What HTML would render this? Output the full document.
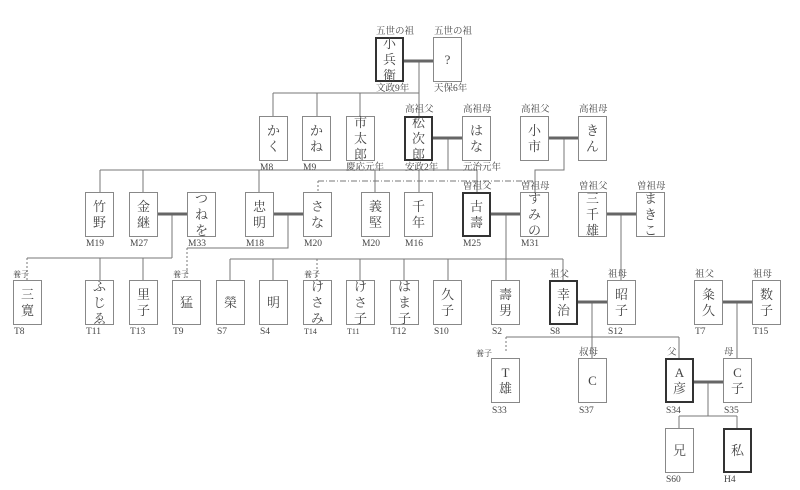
<!DOCTYPE html>
<html><head><meta charset="utf-8"><style>
body{margin:0;width:800px;height:490px;background:#fff;position:relative;overflow:hidden;font-family:"Liberation Serif","Noto Serif CJK SC","Noto Sans CJK JP",serif;color:#444}
.b{position:absolute;width:27px;height:43px;border:1px solid #888;background:#fff;display:flex;flex-direction:column;align-items:center;justify-content:center;font-size:13px;line-height:16px;text-align:center;box-sizing:content-box}
.k{border:2px solid #333;width:25px;height:41px}
.l{position:absolute;font-size:9.5px;line-height:10px;white-space:nowrap;color:#444}
svg{position:absolute;left:0;top:0}
</style></head><body>
<svg width="800" height="490">
<g stroke="#777" stroke-width="1" fill="none">
<path d="M419 61V93M273 93H419M273 93V116M317 93V116M360 93V116M419 93V116"/>
<path d="M448 138V170M100 170H477M100 170V192M143 170V192M259 170V192M375 170V192M419 170V192M477 170V192"/>
<path d="M564 138V170H535V192"/>
<path d="M172 214V258M27 258H172M100 258V280M143 258V280"/>
<path d="M288 214V248H187"/>
<path d="M230 259H563M230 259V280M273 259V280M360 259V280M404 259V280M448 259V280M563 259V280"/>
<path d="M506 214V280"/>
<path d="M621 214V280"/>
<path d="M592 302V358M506 337H679M679 337V358"/>
<path d="M737 302V358"/>
<path d="M708 382V416M679 416H737M679 416V428M737 416V428"/>
</g>
<g stroke="#777" stroke-width="1" fill="none" stroke-dasharray="2,2">
<path d="M27 258V290M187 248V290M317 259V290M506 337V352"/>
</g>
<path d="M318 181H535V170" stroke="#777" fill="none" stroke-dasharray="6,2,1,2"/>
<path d="M318 181V192" stroke="#777" fill="none" stroke-dasharray="2,2"/>
<g stroke="#666" stroke-width="3">
<path d="M404 61H433M433 138H462M549 138H578M158 214H187M274 214H303M491 214H520M607 214H636M578 302H607M723 302H752M694 382H723"/>
</g>
</svg>

<div class="l" style="left:376px;top:27px">五世の祖</div><div class="l" style="left:434px;top:27px">五世の祖</div>
<div class="b k" style="left:375px;top:37px">小<br>兵<br>衛</div>
<div class="b" style="left:433px;top:37px">?</div>
<div class="l" style="left:376px;top:84px">文政9年</div><div class="l" style="left:434px;top:84px">天保6年</div>

<div class="l" style="left:405px;top:105px">高祖父</div><div class="l" style="left:463px;top:105px">高祖母</div>
<div class="l" style="left:521px;top:105px">高祖父</div><div class="l" style="left:579px;top:105px">高祖母</div>
<div class="b" style="left:259px;top:116px">か<br>く</div>
<div class="b" style="left:302px;top:116px">か<br>ね</div>
<div class="b" style="left:346px;top:116px">市<br>太<br>郎</div>
<div class="b k" style="left:404px;top:116px">松<br>次<br>郎</div>
<div class="b" style="left:462px;top:116px">は<br>な</div>
<div class="b" style="left:520px;top:116px">小<br>市</div>
<div class="b" style="left:578px;top:116px">き<br>ん</div>
<div class="l" style="left:260px;top:163px">M8</div><div class="l" style="left:303px;top:163px">M9</div>
<div class="l" style="left:346px;top:163px">慶応元年</div><div class="l" style="left:405px;top:163px">安政2年</div><div class="l" style="left:463px;top:163px">元治元年</div>

<div class="l" style="left:463px;top:182px">曽祖父</div><div class="l" style="left:521px;top:182px">曽祖母</div>
<div class="l" style="left:579px;top:182px">曽祖父</div><div class="l" style="left:637px;top:182px">曽祖母</div>
<div class="b" style="left:85px;top:192px">竹<br>野</div>
<div class="b" style="left:129px;top:192px">金<br>継</div>
<div class="b" style="left:187px;top:192px">つ<br>ね<br>を</div>
<div class="b" style="left:245px;top:192px">忠<br>明</div>
<div class="b" style="left:303px;top:192px">さ<br>な</div>
<div class="b" style="left:361px;top:192px">義<br>堅</div>
<div class="b" style="left:404px;top:192px">千<br>年</div>
<div class="b k" style="left:462px;top:192px">古<br>壽</div>
<div class="b" style="left:520px;top:192px">す<br>み<br>の</div>
<div class="b" style="left:578px;top:192px">三<br>千<br>雄</div>
<div class="b" style="left:636px;top:192px">ま<br>き<br>こ</div>
<div class="l" style="left:86px;top:239px">M19</div><div class="l" style="left:130px;top:239px">M27</div><div class="l" style="left:188px;top:239px">M33</div>
<div class="l" style="left:246px;top:239px">M18</div><div class="l" style="left:304px;top:239px">M20</div><div class="l" style="left:362px;top:239px">M20</div>
<div class="l" style="left:405px;top:239px">M16</div><div class="l" style="left:463px;top:239px">M25</div><div class="l" style="left:521px;top:239px">M31</div>

<div class="l" style="left:13px;top:270px;font-size:8px">養子</div><div class="l" style="left:173px;top:270px;font-size:8px">養子</div><div class="l" style="left:304px;top:270px;font-size:8px">養子</div>
<div class="l" style="left:550px;top:270px">祖父</div><div class="l" style="left:608px;top:270px">祖母</div>
<div class="l" style="left:695px;top:270px">祖父</div><div class="l" style="left:753px;top:270px">祖母</div>
<div class="b" style="left:13px;top:280px">三<br>寛</div>
<div class="b" style="left:85px;top:280px">ふ<br>じ<br>ゑ</div>
<div class="b" style="left:129px;top:280px">里<br>子</div>
<div class="b" style="left:172px;top:280px">猛</div>
<div class="b" style="left:216px;top:280px">榮</div>
<div class="b" style="left:259px;top:280px">明</div>
<div class="b" style="left:303px;top:280px">け<br>さ<br>み</div>
<div class="b" style="left:346px;top:280px">け<br>さ<br>子</div>
<div class="b" style="left:390px;top:280px">は<br>ま<br>子</div>
<div class="b" style="left:433px;top:280px">久<br>子</div>
<div class="b" style="left:491px;top:280px">壽<br>男</div>
<div class="b k" style="left:549px;top:280px">幸<br>治</div>
<div class="b" style="left:607px;top:280px">昭<br>子</div>
<div class="b" style="left:694px;top:280px">粂<br>久</div>
<div class="b" style="left:752px;top:280px">数<br>子</div>
<div class="l" style="left:14px;top:327px">T8</div><div class="l" style="left:86px;top:327px">T11</div><div class="l" style="left:130px;top:327px">T13</div>
<div class="l" style="left:173px;top:327px">T9</div><div class="l" style="left:217px;top:327px">S7</div><div class="l" style="left:260px;top:327px">S4</div>
<div class="l" style="left:304px;top:327px;font-size:8px">T14</div><div class="l" style="left:347px;top:327px;font-size:8px">T11</div><div class="l" style="left:391px;top:327px">T12</div>
<div class="l" style="left:434px;top:327px">S10</div><div class="l" style="left:492px;top:327px">S2</div><div class="l" style="left:550px;top:327px">S8</div>
<div class="l" style="left:608px;top:327px">S12</div><div class="l" style="left:695px;top:327px">T7</div><div class="l" style="left:753px;top:327px">T15</div>

<div class="l" style="left:476px;top:349px;font-size:8px">養子</div><div class="l" style="left:579px;top:348px">叔母</div>
<div class="l" style="left:667px;top:348px">父</div><div class="l" style="left:724px;top:348px">母</div>
<div class="b" style="left:491px;top:358px">T<br>雄</div>
<div class="b" style="left:578px;top:358px">C</div>
<div class="b k" style="left:665px;top:358px">A<br>彦</div>
<div class="b" style="left:723px;top:358px">C<br>子</div>
<div class="l" style="left:492px;top:406px">S33</div><div class="l" style="left:579px;top:406px">S37</div>
<div class="l" style="left:666px;top:406px">S34</div><div class="l" style="left:724px;top:406px">S35</div>

<div class="b" style="left:665px;top:428px">兄</div>
<div class="b k" style="left:723px;top:428px">私</div>
<div class="l" style="left:666px;top:475px">S60</div><div class="l" style="left:724px;top:475px">H4</div>
</body></html>
